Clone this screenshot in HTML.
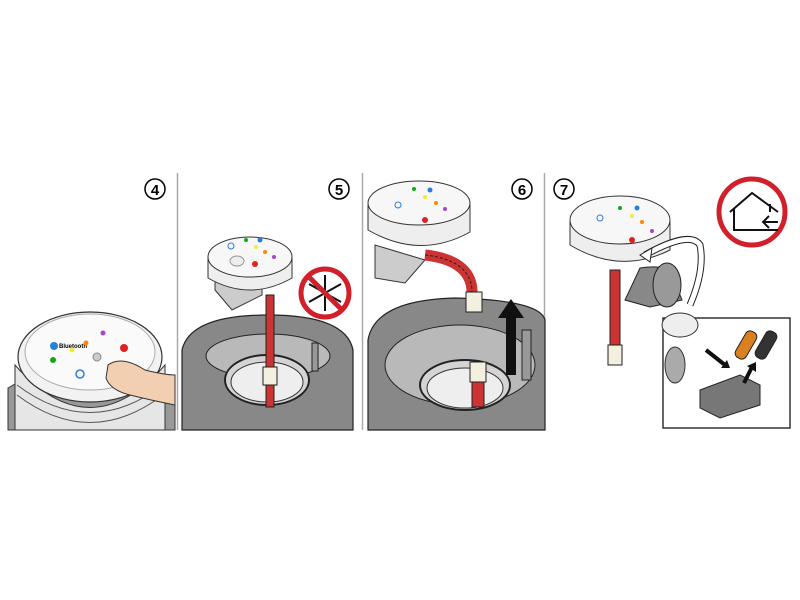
<!DOCTYPE html>
<html><head><style>body{margin:0;background:#fff}svg{display:block}</style></head><body>
<svg width="800" height="600" viewBox="0 0 800 600" xmlns="http://www.w3.org/2000/svg" font-family="Liberation Sans, sans-serif">
<rect width="800" height="600" fill="#fff"/>
<line x1="177.5" y1="173" x2="177.5" y2="430" stroke="#aaa" stroke-width="1.5"/>
<line x1="362.5" y1="173" x2="362.5" y2="430" stroke="#aaa" stroke-width="1.5"/>
<line x1="544.5" y1="173" x2="544.5" y2="430" stroke="#aaa" stroke-width="1.5"/>

<g font-weight="bold" font-size="15" text-anchor="middle">
<circle cx="155" cy="189" r="10" fill="#fff" stroke="#000" stroke-width="1.5"/><text x="155" y="195">4</text>
<circle cx="339" cy="189" r="10" fill="#fff" stroke="#000" stroke-width="1.5"/><text x="339" y="195">5</text>
<circle cx="522" cy="189" r="10" fill="#fff" stroke="#000" stroke-width="1.5"/><text x="522" y="195">6</text>
<circle cx="564" cy="189" r="10" fill="#fff" stroke="#000" stroke-width="1.5"/><text x="564" y="195">7</text>
</g>

<!-- Panel 4 -->
<path d="M8 388 L22 380 L165 380 L175 395 L175 430 L8 430 Z" fill="#999" stroke="#333"/>
<path d="M15 365 Q90 450 165 365 L165 430 L15 430 Z" fill="#e6e6e6" stroke="#333"/>
<path d="M17 385 Q90 440 163 385" fill="none" stroke="#555"/>
<path d="M17 395 Q90 450 163 395" fill="none" stroke="#555"/>
<ellipse cx="90" cy="357" rx="72" ry="45" fill="#f2f2f2" stroke="#333" stroke-width="1.2"/>
<ellipse cx="90" cy="352" rx="65" ry="38" fill="#fafafa" stroke="#aaa"/>
<circle cx="54" cy="346" r="4" fill="#2a7fd4"/><text x="59" y="348" font-size="6" font-weight="bold">Bluetooth</text>
<circle cx="72" cy="350" r="2.5" fill="#ee3"/><circle cx="86" cy="343" r="2.5" fill="#f80"/>
<circle cx="103" cy="333" r="2.5" fill="#a4c"/><circle cx="53" cy="360" r="3" fill="#1a1"/>
<circle cx="124" cy="348" r="4" fill="#d22"/><circle cx="80" cy="374" r="4" fill="none" stroke="#2a7fd4" stroke-width="1.5"/>
<circle cx="97" cy="357" r="4" fill="#ccc" stroke="#888"/>
<path d="M108 365 Q122 355 145 370 Q165 375 175 375 L175 405 Q150 400 130 395 Q110 390 106 378 Z" fill="#f1cfb0" stroke="#333"/>

<!-- Panel 5 bowl -->
<path d="M182 350 Q190 315 268 315 Q346 315 353 350 L353 430 L182 430 Z" fill="#888" stroke="#222" stroke-width="1.2"/>
<ellipse cx="268" cy="356" rx="62" ry="22" fill="#b9b9b9" stroke="#222"/>
<ellipse cx="267" cy="380" rx="42" ry="25" fill="#d4d4d4" stroke="#222" stroke-width="2"/>
<ellipse cx="267" cy="382" rx="36" ry="20" fill="#eee" stroke="#333"/>
<rect x="312" y="343" width="6" height="28" fill="#999" stroke="#222"/>
<path d="M215 290 L232 310 L262 295 L262 280 L215 280 Z" fill="#ccc" stroke="#333"/>
<path d="M208 258 L208 278 Q250 302 292 278 L292 258 Z" fill="#eee" stroke="#333"/>
<ellipse cx="250" cy="257" rx="42" ry="20" fill="#f7f7f7" stroke="#333"/>
<circle cx="246" cy="240" r="2" fill="#1a1"/><circle cx="260" cy="240" r="2.5" fill="#2a7fd4"/>
<circle cx="256" cy="247" r="2" fill="#ee3"/><circle cx="265" cy="252" r="2" fill="#f80"/>
<circle cx="274" cy="257" r="2" fill="#a4c"/><circle cx="255" cy="264" r="3" fill="#d22"/>
<circle cx="231" cy="246" r="3" fill="none" stroke="#2a7fd4"/><ellipse cx="237" cy="261" rx="7" ry="5" fill="#eee" stroke="#999"/>
<rect x="266" y="295" width="8" height="112" fill="#c33" stroke="#222"/>
<rect x="263" y="367" width="14" height="18" fill="#f3f0e0" stroke="#222"/>
<circle cx="325" cy="293" r="24" fill="#fff" stroke="#d2202b" stroke-width="5"/>
<g stroke="#111" stroke-width="2"><line x1="325" y1="275" x2="325" y2="311"/><line x1="309" y1="284" x2="341" y2="302"/><line x1="309" y1="302" x2="341" y2="284"/></g>
<line x1="308" y1="276" x2="342" y2="310" stroke="#d2202b" stroke-width="5"/>

<!-- Panel 6 -->
<path d="M368 340 Q375 300 455 298 Q540 300 545 320 L545 430 L368 430 Z" fill="#888" stroke="#222" stroke-width="1.2"/>
<ellipse cx="460" cy="365" rx="75" ry="40" fill="#b9b9b9" stroke="#222"/>
<ellipse cx="465" cy="385" rx="45" ry="25" fill="#d4d4d4" stroke="#222" stroke-width="2"/>
<ellipse cx="465" cy="388" rx="38" ry="20" fill="#eee" stroke="#333"/>
<rect x="522" y="330" width="9" height="50" fill="#999" stroke="#222"/>
<rect x="470" y="362" width="16" height="20" fill="#f3f0e0" stroke="#222"/>
<rect x="472" y="382" width="12" height="25" fill="#c33" stroke="#222"/>
<path d="M375 245 L375 278 L405 283 L425 260 Z" fill="#ccc" stroke="#333"/>
<path d="M368 205 L368 230 Q420 260 470 232 L470 205 Z" fill="#eee" stroke="#333"/>
<ellipse cx="419" cy="203" rx="51" ry="22" fill="#f7f7f7" stroke="#333"/>
<circle cx="414" cy="189" r="2" fill="#1a1"/><circle cx="430" cy="190" r="2.5" fill="#2a7fd4"/>
<circle cx="425" cy="197" r="2" fill="#ee3"/><circle cx="436" cy="203" r="2" fill="#f80"/>
<circle cx="445" cy="209" r="2" fill="#a4c"/><circle cx="425" cy="220" r="3" fill="#d22"/>
<circle cx="398" cy="205" r="3" fill="none" stroke="#2a7fd4"/>
<path d="M425 255 Q470 260 472 290 L472 297" fill="none" stroke="#c33" stroke-width="11"/>
<path d="M425 255 Q470 260 472 290 L472 297" fill="none" stroke="#222" stroke-width="1" stroke-dasharray="3 2"/>
<rect x="466" y="292" width="16" height="20" fill="#f3f0e0" stroke="#222"/>
<path d="M506 375 L506 318 L498 318 L511 299 L524 318 L516 318 L516 375 Z" fill="#111"/>

<!-- Panel 7 -->
<rect x="610" y="270" width="10" height="90" fill="#c33" stroke="#222"/>
<rect x="608" y="345" width="14" height="20" fill="#f3f0e0" stroke="#222"/>
<path d="M640 268 Q660 265 670 270 L682 300 L650 307 L625 300 Z" fill="#888" stroke="#222"/>
<ellipse cx="667" cy="285" rx="14" ry="22" fill="#999" stroke="#222"/>
<path d="M570 222 L570 245 Q620 275 670 250 L670 222 Z" fill="#eee" stroke="#333"/>
<ellipse cx="620" cy="220" rx="50" ry="24" fill="#f7f7f7" stroke="#333"/>
<circle cx="620" cy="208" r="2" fill="#1a1"/><circle cx="637" cy="208" r="2.5" fill="#2a7fd4"/>
<circle cx="632" cy="216" r="2" fill="#ee3"/><circle cx="642" cy="222" r="2" fill="#f80"/>
<circle cx="652" cy="231" r="2" fill="#a4c"/><circle cx="632" cy="240" r="3" fill="#d22"/>
<circle cx="600" cy="218" r="3" fill="none" stroke="#2a7fd4"/>
<path d="M645 255 Q690 230 700 245 Q705 270 690 305" fill="none" stroke="#222" stroke-width="7"/>
<path d="M645 255 Q690 230 700 245 Q705 270 690 305" fill="none" stroke="#fff" stroke-width="5"/>
<path d="M640 255 L652 248 L650 262 Z" fill="#fff" stroke="#222"/>
<circle cx="752" cy="212" r="33" fill="#fff" stroke="#d2202b" stroke-width="5"/>
<path d="M730 212 L752 193 L778 212 M734 209 L734 230 L778 230 M770 204 L770 212 M778 222 L763 222 M769 216 L763 222 L769 228" fill="none" stroke="#111" stroke-width="2"/>
<rect x="663" y="318" width="127" height="110" fill="#fff" stroke="#333" stroke-width="1.5"/>
<ellipse cx="680" cy="325" rx="18" ry="12" fill="#eee" stroke="#333"/>
<ellipse cx="675" cy="365" rx="10" ry="18" fill="#aaa" stroke="#333"/>
<path d="M700 390 L740 375 L760 385 L760 405 L720 418 L700 408 Z" fill="#777" stroke="#222"/>
<rect x="740" y="330" width="12" height="30" rx="5" fill="#d98020" stroke="#222" transform="rotate(30 746 345)"/>
<rect x="760" y="330" width="12" height="30" rx="5" fill="#333" stroke="#222" transform="rotate(30 766 345)"/>
<path d="M706 350 L725 365" stroke="#111" stroke-width="4"/><path d="M721 368 L730 368 L727 360 Z" fill="#111"/>
<path d="M744 383 L752 367" stroke="#111" stroke-width="4"/><path d="M747 366 L756 362 L756 372 Z" fill="#111"/>
</svg>
</body></html>
